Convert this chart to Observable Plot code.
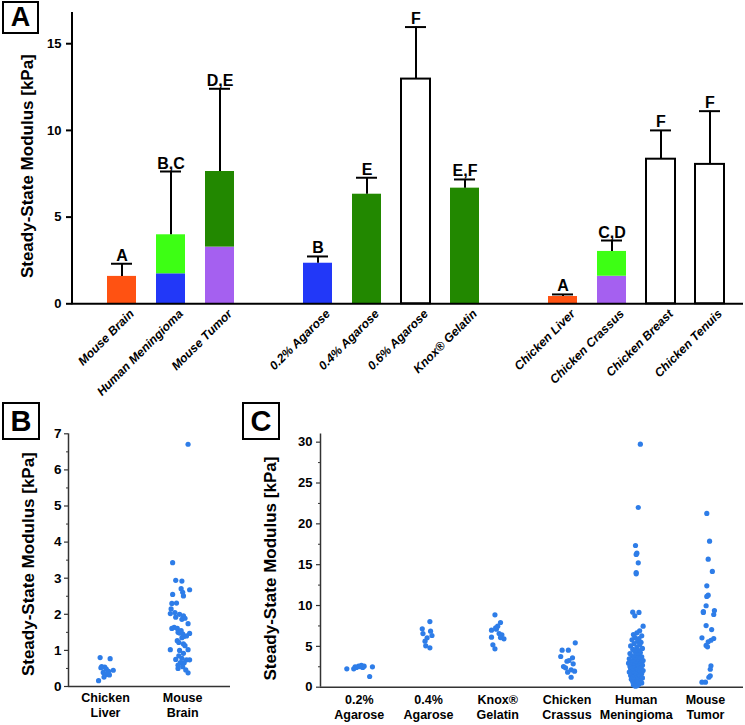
<!DOCTYPE html>
<html><head><meta charset="utf-8">
<script src="https://cdn.jsdelivr.net/npm/d3@7"></script>
<script src="https://cdn.jsdelivr.net/npm/@observablehq/plot@0.6"></script>
<style>
body{margin:0;background:#fff;}
#fig{position:relative;width:745px;height:725px;font-family:"Liberation Sans",Arial,sans-serif;overflow:hidden;}
.box{position:absolute;border:2px solid #000;box-sizing:border-box;font-weight:bold;display:flex;align-items:center;justify-content:center;line-height:1;background:#fff;z-index:2;}
</style></head><body>
<div id="fig">
  <div class="box" style="left:2px;top:1px;width:37px;height:33px;font-size:27px;">A</div>
  <div class="box" style="left:2px;top:402px;width:38px;height:38px;font-size:29px;">B</div>
  <div class="box" style="left:242px;top:402px;width:38px;height:38px;font-size:29px;">C</div>
</div>
<script>
// ---------- Panel A data ----------
const groupA1 = ["Mouse Brain","Human Meningioma","Mouse Tumor"];
const groupA2 = ["0.2% Agarose","0.4% Agarose","0.6% Agarose","Knox® Gelatin"];
const groupA3 = ["Chicken Liver","Chicken Crassus","Chicken Breast","Chicken Tenuis"];
const barCats = [...groupA1, ...groupA2, ...groupA3];
const barMeans = [1.58, 3.98, 7.63, 2.34, 6.32, 12.96, 6.67, 0.42, 3.02, 8.34, 8.04];
const barSD    = [0.73, 3.65, 4.77, 0.39, 0.95, 3.00, 0.50, 0.12, 0.63, 1.66, 3.07];
const barLetters = ["A","B,C","D,E","B","E","F","E,F","A","C,D","F","F"];
const segCat  = ["Mouse Brain","Human Meningioma","Human Meningioma","Mouse Tumor","Mouse Tumor","0.2% Agarose","0.4% Agarose","0.6% Agarose","Knox® Gelatin","Chicken Liver","Chicken Crassus","Chicken Crassus","Chicken Breast","Chicken Tenuis"];
const segLow  = [0, 0, 1.73, 0, 3.27, 0, 0, 0, 0, 0, 0, 1.59, 0, 0];
const segHigh = [1.58, 1.73, 3.98, 3.27, 7.63, 2.34, 6.32, 12.96, 6.67, 0.42, 1.59, 3.02, 8.34, 8.04];
const segKind = ["I","II","III","V","IV","II","IV","O","IV","I","V","III","O","O"];
const yTicksA = [0, 5, 10, 15];

// ---------- Panel B data ----------
const catsB = ["Chicken\nLiver", "Mouse\nBrain"];
const liverVals = [0.80,0.77,0.55,0.54,0.48,0.45,0.42,0.39,0.33,0.32,0.26,0.16,0.37,0.52];
const liverJit  = [-0.07,0.06,-0.05,-0.01,0.01,0.10,0.04,-0.03,0.01,0.05,-0.02,-0.09,0.03,-0.06];
const brainVals = [6.71,3.43,2.94,2.92,2.71,2.68,2.61,2.51,2.55,2.31,2.30,2.15,2.05,2.02,2.00,1.96,1.92,1.86,1.89,1.74,1.61,1.64,1.61,1.50,1.48,1.46,1.47,1.39,1.35,1.27,1.22,1.18,1.13,1.02,1.00,1.02,0.92,0.75,0.78,0.74,0.74,0.66,0.66,0.59,0.55,0.50,0.46,0.38,1.55,1.40,0.85];
const brainJit  = [0.07,-0.13,-0.09,-0.01,-0.02,0.09,0.00,0.01,-0.13,-0.08,-0.14,-0.15,-0.10,-0.16,-0.04,0.01,-0.09,-0.01,0.03,0.07,-0.14,-0.11,-0.07,-0.06,-0.04,0.00,0.09,0.02,-0.01,-0.07,-0.05,0.01,0.03,-0.16,-0.04,0.07,0.01,-0.09,-0.01,0.05,0.09,0.02,-0.03,-0.06,0.00,-0.06,0.04,0.07,-0.02,0.05,-0.05];
const yTicksB = [0,1,2,3,4,5,6,7];

// ---------- Panel C data ----------
const catsC = ["0.2%\nAgarose","0.4%\nAgarose","Knox®\nGelatin","Chicken\nCrassus","Human\nMeningioma","Mouse\nTumor"];
const agar02Vals = [2.25,2.25,2.49,2.57,2.66,2.57,2.41,2.49,1.31,2.53,2.41];
const agar02Jit  = [-0.18,-0.08,-0.06,-0.01,0.03,0.07,0.05,0.19,0.15,0.01,-0.04];
const agar04Vals = [8.04,7.15,6.86,6.57,6.33,6.05,5.63,5.07,4.82];
const agar04Jit  = [0.02,-0.09,0.03,-0.08,0.05,-0.02,-0.05,-0.04,0.02];
const knoxVals = [8.86,7.92,7.47,7.27,6.98,6.57,6.41,6.12,6.08,5.92,5.19,4.70,7.10];
const knoxJit  = [-0.04,0.04,0.00,-0.03,-0.09,0.02,0.06,-0.09,0.04,0.09,-0.07,-0.04,-0.02];
const crassusVals = [5.43,4.53,4.53,3.76,3.60,3.18,3.27,2.86,2.53,2.37,2.13,1.96,1.84,1.22];
const crassusJit  = [0.12,-0.07,0.02,-0.09,0.08,0.00,0.03,0.09,-0.05,-0.02,0.06,0.11,0.01,0.06];
const meningVals = [29.75,22.0,17.35,16.41,16.25,15.23,14.04,13.88,9.18,9.15,8.74,7.47,
  6.90,6.66,6.45,6.30,6.10,5.95,5.80,5.62,5.50,5.35,5.20,5.05,4.90,4.75,4.62,4.50,4.38,4.25,4.12,4.00,
  3.90,3.82,3.72,3.63,3.55,3.47,3.40,3.33,3.26,3.20,3.13,3.06,3.00,2.94,2.88,2.82,2.76,2.70,2.64,2.58,
  2.52,2.46,2.40,2.34,2.28,2.22,2.16,2.10,2.04,1.98,1.92,1.86,1.80,1.74,1.68,1.62,1.56,1.50,1.44,1.38,
  1.32,1.26,1.20,1.14,1.08,1.02,0.96,0.90,0.84,0.76,0.68,0.60,0.52,0.44,0.36,0.28,0.20,0.12];
const meningJit = [0.06,0.03,-0.01,0.01,0.00,0.03,0.00,0.00,-0.05,0.04,-0.02,0.10,
  0.05,0.01,-0.04,0.08,-0.02,0.04,-0.06,0.02,0.07,-0.03,0.05,-0.08,0.01,0.09,-0.05,0.03,-0.02,0.06,-0.09,0.00,
  0.04,-0.06,0.08,-0.03,0.02,-0.10,0.05,-0.01,0.10,-0.07,0.03,-0.04,0.07,-0.11,0.00,0.05,-0.06,0.09,-0.02,0.04,
  -0.09,0.01,0.07,-0.04,0.03,-0.08,0.06,-0.01,0.10,-0.05,0.02,-0.10,0.05,-0.03,0.08,-0.06,0.00,0.04,-0.08,0.06,
  -0.02,0.03,-0.05,0.09,-0.01,0.05,-0.07,0.02,-0.03,0.06,-0.05,0.01,0.08,-0.02,0.04,-0.04,0.02,-0.01];
const tumorVals = [21.27,17.88,15.67,14.17,12.41,11.27,11.11,9.97,9.27,9.39,8.90,9.15,7.55,7.06,6.05,5.96,5.75,5.56,5.11,4.94,2.62,2.20,1.22,1.40,0.61,0.61];
const tumorJit  = [0.02,0.06,0.04,0.10,0.02,0.04,0.02,0.01,-0.03,0.13,0.12,-0.03,0.01,0.09,-0.05,0.12,0.08,0.04,0.01,0.03,0.08,0.07,0.05,0.07,-0.05,0.00];
const yTicksC = [0,5,10,15,20,25,30];

const yTitle = "Steady-State Modulus [kPa]";
const FONT = '"Liberation Sans", Arial, Helvetica, sans-serif';
const dotColor = "#2e7de8";

const fig = document.getElementById("fig");

// ---------- Panel A ----------
const domainA = [...groupA1, " ", ...groupA2, "  ", ...groupA3];
const segs = segCat.map((c, i) => ({cat: c, y1: segLow[i], y2: segHigh[i], kind: segKind[i]}));
const bars = barCats.map((c, i) => ({cat: c, mean: barMeans[i], top: barMeans[i] + barSD[i], letter: barLetters[i]}));

const chartA = Plot.plot({
  width: 745, height: 410,
  marginLeft: 72, marginRight: 2, marginTop: 12, marginBottom: 106.7,
  style: {background: "transparent", overflow: "visible", position: "absolute", left: "0px", top: "0px", fontFamily: FONT},
  x: {type: "band", domain: domainA, paddingInner: 0.41, paddingOuter: 0.5, align: 0.65, axis: null},
  y: {domain: [0, 16.8], axis: null},
  color: {domain: ["I","II","III","IV","V"], range: ["#ff5212","#2238f8","#3dff14","#228800","#a560f0"]},
  marks: [
    Plot.barY(segs.filter(d => d.kind !== "O"), {x: "cat", y1: "y1", y2: "y2", fill: "kind"}),
    Plot.barY(segs.filter(d => d.kind === "O"), {x: "cat", y1: "y1", y2: "y2", fill: "white", stroke: "black", strokeWidth: 2}),
    Plot.ruleX(bars, {x: "cat", y1: "mean", y2: "top", stroke: "black", strokeWidth: 2}),
    Plot.tickY(bars, {x: "cat", y: "top", stroke: "black", strokeWidth: 2, insetLeft: 4, insetRight: 4}),
    Plot.text(bars, {x: "cat", y: "top", text: "letter", dy: -3, lineAnchor: "bottom", fontSize: 16, fontWeight: "bold", fill: "black"}),
    Plot.ruleY([0], {stroke: "black", strokeWidth: 2}),
    Plot.axisY({ticks: yTicksA, tickFormat: d => String(d), label: null, tickSize: 6, tickPadding: 5, fontSize: 13, fontWeight: "bold", strokeWidth: 2, stroke: "black", fill: "black"}),
    Plot.text(barCats, {x: d => d, y: 0, text: d => d, rotate: -45, textAnchor: "end", lineAnchor: "middle", dx: 10, dy: 8, fontSize: 12.2, fontWeight: "bold", fontStyle: "italic", fill: "black"}),
    Plot.text([yTitle], {frameAnchor: "left", textAnchor: "middle", rotate: -90, dx: -45, dy: 8, fontSize: 17, fontWeight: "bold", fill: "black"})
  ]
});
fig.appendChild(chartA);
{
  const ys = chartA.scale("y");
  d3.select(chartA).append("line")
    .attr("x1", 72).attr("x2", 72)
    .attr("y1", ys.range[0] + 1).attr("y2", ys.range[1])
    .attr("stroke", "black").attr("stroke-width", 2);
}

// ---------- Panel B ----------
const dataB = [
  ...liverVals.map((v, i) => ({x: 0 + liverJit[i], v})),
  ...brainVals.map((v, i) => ({x: 1 + brainJit[i], v}))
];
const xDomB = [-0.48, 1.62];
const chartB = Plot.plot({
  width: 235, height: 315,
  marginLeft: 68, marginRight: 5, marginTop: 23.3, marginBottom: 39,
  style: {background: "transparent", overflow: "visible", position: "absolute", left: "0px", top: "410px", fontFamily: FONT},
  x: {domain: xDomB, axis: null},
  y: {domain: [0, 7], axis: null},
  marks: [
    Plot.ruleY([0], {stroke: "#333", strokeWidth: 1.5}),
    Plot.ruleX([xDomB[0]], {y1: 0, y2: 7, stroke: "#333", strokeWidth: 1.5}),
    Plot.axisY({ticks: d3.range(0.5, 7, 1), label: null, tickSize: 2, tickFormat: () => "", stroke: "#333"}),
    Plot.axisY({ticks: yTicksB, tickFormat: d => String(d), label: null, tickSize: 4, tickPadding: 3, fontSize: 13.5, fontWeight: "bold", stroke: "#333", strokeWidth: 1.2, fill: "black"}),
    Plot.axisX({ticks: [0, 1], label: null, tickFormat: i => catsB[i], tickSize: 0, tickPadding: 5, fontSize: 12.5, fontWeight: "bold", lineHeight: 1.2, fill: "black"}),
    Plot.dot(dataB, {x: "x", y: "v", r: 2.6, fill: dotColor, stroke: "none"}),
    Plot.text([yTitle], {frameAnchor: "left", textAnchor: "middle", rotate: -90, dx: -40, dy: 4, fontSize: 17, fontWeight: "bold", fill: "black"})
  ]
});
fig.appendChild(chartB);

// ---------- Panel C ----------
const groupsC = [[agar02Vals, agar02Jit],[agar04Vals, agar04Jit],[knoxVals, knoxJit],[crassusVals, crassusJit],[meningVals, meningJit],[tumorVals, tumorJit]];
const dataC = groupsC.flatMap(([vals, jit], gi) => vals.map((v, i) => ({x: gi + jit[i], v})));
const xDomC = [-0.56, 5.55];
const chartC = Plot.plot({
  width: 505, height: 315,
  marginLeft: 80, marginRight: 2, marginTop: 23.5, marginBottom: 38.3,
  style: {background: "transparent", overflow: "visible", position: "absolute", left: "240px", top: "410px", fontFamily: FONT},
  x: {domain: xDomC, axis: null},
  y: {domain: [0, 31], axis: null},
  marks: [
    Plot.ruleY([0], {stroke: "#333", strokeWidth: 1.5}),
    Plot.ruleX([xDomC[0]], {y1: 0, y2: 31, stroke: "#333", strokeWidth: 1.5}),
    Plot.axisY({ticks: d3.range(2.5, 31, 5), label: null, tickSize: 2, tickFormat: () => "", stroke: "#333"}),
    Plot.axisY({ticks: yTicksC, tickFormat: d => String(d), label: null, tickSize: 4, tickPadding: 4, fontSize: 13, fontWeight: "bold", stroke: "#333", strokeWidth: 1.2, fill: "black"}),
    Plot.axisX({ticks: d3.range(catsC.length), label: null, tickFormat: i => catsC[i], tickSize: 0, tickPadding: 6, fontSize: 12.5, fontWeight: "bold", lineHeight: 1.2, fill: "black"}),
    Plot.dot(dataC, {x: "x", y: "v", r: 2.6, fill: dotColor, stroke: "none"}),
    Plot.text([yTitle], {frameAnchor: "left", textAnchor: "middle", rotate: -90, dx: -50, dy: 8, fontSize: 17, fontWeight: "bold", fill: "black"})
  ]
});
fig.appendChild(chartC);
</script>
</body></html>
